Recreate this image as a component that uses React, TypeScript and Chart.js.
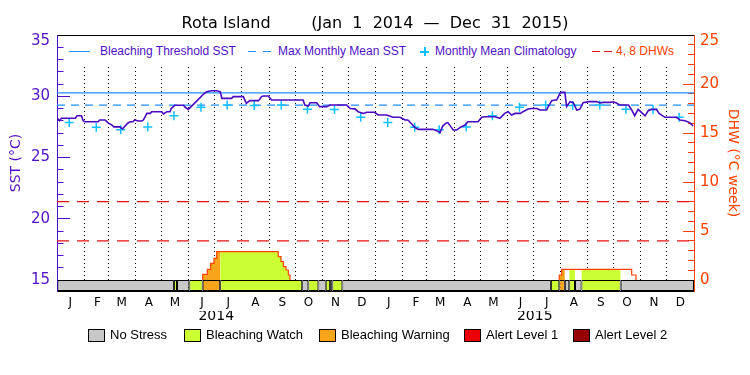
import React, { useEffect, useRef } from 'react';
import { Chart, registerables } from 'chart.js';

Chart.register(...registerables);

// ---------------- data ----------------
const monthStarts = [0, 31, 59, 90, 120, 151, 181, 212, 243, 273, 304, 334, 365, 396, 424, 455, 485, 516, 546, 577, 608, 638, 669, 699, 730];
const monthLabels = ['J', 'F', 'M', 'A', 'M', 'J', 'J', 'A', 'S', 'O', 'N', 'D', 'J', 'F', 'M', 'A', 'M', 'J', 'J', 'A', 'S', 'O', 'N', 'D', ''];
const yearCenters = [182.5, 547.5];
const yearLabels = ['2014', '2015'];
const sstTickValues = [15, 20, 25, 30, 35];
const dhwTickValues = [0, 5, 10, 15, 20, 25];

// daily SST (day index from Jan 1 2014)
const sstDays = [0, 3, 5, 21, 23, 28, 30, 32, 47, 49, 55, 59, 63, 65, 72, 75, 81, 84, 87, 89, 93, 97, 99, 103, 107, 108.5, 120, 122, 126, 129.5, 131, 135, 145, 147, 150.5, 160, 168, 171.5, 177, 183, 187, 189, 200, 202, 213.5, 217, 221, 231, 234.5, 236.5, 242, 246, 282, 284, 288, 290, 297.6, 301, 309, 313, 332, 336, 341.5, 345, 351, 355, 364, 368, 378, 385, 393, 399, 402, 406.5, 410, 414, 427.5, 431, 435, 439, 442, 446.5, 448, 452, 454, 458, 462, 467.6, 471, 482.5, 486.7, 490.5, 502, 507.7, 513, 517, 521, 525, 531, 534, 540, 544, 550, 553.5, 561, 563, 567, 570.7, 572.6, 576.4, 578, 582, 584, 588, 591.7, 595.6, 599, 603, 609, 618.5, 622, 626, 634, 637.5, 641, 645, 655, 658.6, 662, 666, 670, 674, 677.6, 681.5, 687, 690, 696.7, 702.5, 710, 714, 719.7, 725, 729];
const sstValues = [28.25, 28.0, 28.2, 28.2, 28.41, 28.41, 28.0, 27.92, 27.92, 28.06, 28.06, 27.8, 27.65, 27.5, 27.5, 27.33, 27.8, 27.92, 27.92, 28.06, 27.98, 27.98, 28.06, 28.6, 28.6, 28.74, 28.74, 28.55, 28.74, 28.74, 29.0, 29.26, 29.26, 29.1, 28.93, 29.6, 30.18, 30.37, 30.45, 30.45, 30.37, 29.83, 29.83, 29.97, 29.97, 29.42, 29.64, 29.64, 29.97, 30.02, 30.02, 29.69, 29.69, 29.28, 29.2, 29.47, 29.47, 29.15, 29.15, 29.28, 29.28, 29.0, 28.97, 28.74, 28.6, 28.69, 28.69, 28.47, 28.47, 28.28, 28.28, 28.06, 28.06, 27.73, 27.46, 27.3, 27.3, 27.3, 27.19, 27.03, 27.57, 27.84, 27.84, 27.46, 27.24, 27.24, 27.46, 27.65, 27.92, 27.92, 28.28, 28.33, 28.33, 28.2, 28.6, 28.74, 28.47, 28.6, 28.6, 28.74, 28.96, 29.0, 29.0, 28.88, 28.88, 29.15, 29.64, 29.69, 29.69, 30.24, 30.32, 30.32, 29.15, 29.56, 29.47, 28.88, 28.93, 29.47, 29.56, 29.56, 29.45, 29.5, 29.5, 29.55, 29.45, 29.28, 29.28, 28.88, 28.41, 28.93, 28.66, 28.4, 28.82, 28.93, 28.93, 28.6, 28.28, 28.28, 28.28, 28.06, 28.0, 27.85, 27.57];

// monthly mean climatology (Jan..Dec), plotted mid-month
const climValues = [27.85, 27.46, 27.27, 27.5, 28.41, 29.1, 29.28, 29.25, 29.28, 28.93, 28.92, 28.28];
const bleachingThreshold = 30.27;
const maxMonthlyMean = 29.27;
const dhwLevels = [4, 8];

// degree heating weeks (stepped; value holds from its day)
const dhwDays = [0, 167, 167, 172.3, 176.1, 179.9, 183, 253.6, 256.7, 259.4, 262.4, 265.1, 267, 575.6, 575.6, 578.4, 658.6, 663.5, 730];
const dhwValues = [0, 0, 0.58, 1.09, 1.7, 2.21, 2.89, 2.38, 1.87, 1.36, 1.02, 0.51, 0, 0, 0.51, 1.09, 0.51, 0, 0];

// bleaching stress periods
const stressStart = [0, 134, 137.5, 151.6, 167, 187, 281, 288, 299.5, 308, 313, 315.5, 327, 566, 575.6, 582, 587, 593.6, 601, 646];
const stressEnd = [134, 137.5, 151.6, 167, 187, 281, 288, 299.5, 308, 313, 315.5, 327, 566, 575.6, 582, 587, 593.6, 601, 646, 730];
const stressLevel = [0, 1, 0, 1, 2, 1, 0, 1, 0, 1, 0, 1, 0, 1, 2, 0, 1, 0, 1, 0];
const stressNames = ['No Stress', 'Bleaching Watch', 'Bleaching Warning', 'Alert Level 1', 'Alert Level 2'];

// ---------------- styles ----------------
const stressColors = ['#c8c8c8', '#ccff33', '#f9a51b', '#ee0000', '#960000'];
const PURPLE = '#5010c8';
const SST_LINE = '#4a08c0';
const BLUE = '#1e90ff';
const CYAN = '#10bfff';
const ORANGE = '#ff4000';
const RED = '#e81010';

const W = 750;
const H = 375;
const AREA_TOP = 35;
const AREA_BOTTOM = 291;
const BASE_Y = 280;
const SST_MIN = 15 - ((AREA_BOTTOM - BASE_Y) * 20) / (BASE_Y - AREA_TOP);
const DHW_MIN = -((AREA_BOTTOM - BASE_Y) * 25) / (BASE_Y - AREA_TOP);
const BAND_MAX = (AREA_BOTTOM - AREA_TOP) / (AREA_BOTTOM - BASE_Y);
const TITLE = 'Rota Island' + ' '.repeat(8) + '(Jan  1  2014  \u2014  Dec  31  2015)';

// bottom legend layout (page px)
const stressLegendBoxX = [88, 184, 319, 464, 573];

function dhwAt(d: number): number {
  let v = 0;
  for (let i = 0; i < dhwDays.length; i++) if (dhwDays[i] <= d) v = dhwValues[i];
  return v;
}

function buildFillDatasets() {
  const out: any[] = [];
  stressStart.forEach((s, k) => {
    const lvl = stressLevel[k];
    if (lvl < 1) return;
    const e = stressEnd[k];
    const pts: { x: number; y: number }[] = [{ x: s, y: dhwAt(s) }];
    dhwDays.forEach((d, i) => {
      if (d > s && d < e) pts.push({ x: d, y: dhwValues[i] });
    });
    pts.push({ x: e, y: pts[pts.length - 1].y });
    if (Math.max(...pts.map((p) => p.y)) <= 0) return;
    out.push({
      type: 'line',
      label: 'fill' + k,
      data: pts,
      xAxisID: 'x',
      yAxisID: 'yD',
      stepped: true,
      fill: 'origin',
      backgroundColor: stressColors[lvl],
      borderColor: 'rgba(0,0,0,0)',
      borderWidth: 0,
      pointRadius: 0,
      order: 7,
    });
  });
  return out;
}

const sstMinorTicks = Array.from({ length: 21 }, (_, i) => 15 + i);
const dhwMinorTicks = Array.from({ length: 26 }, (_, i) => i);

// the top tick label sits just inside the frame (pushed down ~6px), as in the original plot
const topLabel = (v: any, i: number, n: number) => (i === n - 1 ? ['', String(v)] : String(v));
const topLabelFont = (n: number) => (c: any) => (c.index === n - 1 ? { size: 15, lineHeight: 0.8 } : { size: 15 });

const LEGEND_FONT = '"Liberation Sans", Arial, sans-serif';

function Txt(props: { left: number; top: number; text: string; color: string; size: number }) {
  return (
    <span
      style={{
        position: 'absolute',
        left: props.left,
        top: props.top,
        height: 14,
        lineHeight: '14px',
        fontFamily: LEGEND_FONT,
        fontSize: props.size,
        color: props.color,
        whiteSpace: 'nowrap',
      }}
    >
      {props.text}
    </span>
  );
}

function Bar(props: { left: number; top: number; w: number; h: number; color: string }) {
  return (
    <div style={{ position: 'absolute', left: props.left, top: props.top, width: props.w, height: props.h, background: props.color }} />
  );
}

function TopLegend() {
  return (
    <>
      <Bar left={65} top={36} w={621} h={28} color="#ffffff" />
      <Bar left={69} top={51} w={21} h={1} color={BLUE} />
      <Txt left={100} top={44} text="Bleaching Threshold SST" color={PURPLE} size={12} />
      <Bar left={248} top={51} w={8} h={1} color={BLUE} />
      <Bar left={263} top={51} w={8} h={1} color={BLUE} />
      <Txt left={278} top={44} text="Max Monthly Mean SST" color={PURPLE} size={12} />
      <Bar left={420} top={51} w={9} h={1.5} color={CYAN} />
      <Bar left={424} top={47} w={1.5} h={9} color={CYAN} />
      <Txt left={435} top={44} text="Monthly Mean Climatology" color={PURPLE} size={12} />
      <Bar left={592} top={51} w={8} h={1} color={RED} />
      <Bar left={604} top={51} w={8} h={1} color={RED} />
      <Txt left={616} top={44} text="4, 8 DHWs" color={ORANGE} size={12} />
    </>
  );
}

function StressLegend() {
  return (
    <>
      {stressNames.map((name, i) => (
        <React.Fragment key={name}>
          <div
            style={{
              position: 'absolute',
              left: stressLegendBoxX[i],
              top: 329,
              width: 17,
              height: 13,
              boxSizing: 'border-box',
              border: '1px solid #000',
              background: stressColors[i],
            }}
          />
          <Txt left={stressLegendBoxX[i] + 22} top={328} text={name} color="#000000" size={13} />
        </React.Fragment>
      ))}
    </>
  );
}

export default function App() {
  const ref = useRef<HTMLCanvasElement | null>(null);

  useEffect(() => {
    if (!ref.current) return;
    Chart.defaults.font.family = '"DejaVu Sans", sans-serif';

    const datasets: any[] = [
      {
        type: 'bar',
        label: 'Stress',
        indexAxis: 'y',
        xAxisID: 'x',
        yAxisID: 'yBand',
        data: stressStart.map((s, i) => ({ x: [s, stressEnd[i]], y: 0.5 })),
        backgroundColor: stressLevel.map((l) => stressColors[l]),
        borderColor: '#000000',
        borderWidth: 1,
        borderSkipped: false,
        barThickness: AREA_BOTTOM - BASE_Y,
        inflateAmount: 0,
        order: 0,
      },
      {
        type: 'line',
        label: 'SST',
        data: sstDays.map((d, i) => ({ x: d, y: sstValues[i] })),
        xAxisID: 'x',
        yAxisID: 'y',
        borderColor: SST_LINE,
        borderWidth: 1.6,
        pointRadius: 0,
        tension: 0,
        order: 1,
      },
      {
        type: 'line',
        label: 'Monthly Mean Climatology',
        data: monthStarts.slice(0, 24).map((d, i) => ({ x: d + 14, y: climValues[i % 12] })),
        xAxisID: 'x',
        yAxisID: 'y',
        showLine: false,
        pointStyle: 'cross',
        pointRadius: 4.5,
        pointBorderWidth: 1.5,
        pointBorderColor: CYAN,
        borderColor: CYAN,
        order: 2,
      },
      {
        type: 'line',
        label: 'Bleaching Threshold SST',
        data: [{ x: 0, y: bleachingThreshold }, { x: 730, y: bleachingThreshold }],
        xAxisID: 'x',
        yAxisID: 'y',
        borderColor: BLUE,
        borderWidth: 1.2,
        pointRadius: 0,
        order: 3,
      },
      {
        type: 'line',
        label: 'Max Monthly Mean SST',
        data: [{ x: 0, y: maxMonthlyMean }, { x: 730, y: maxMonthlyMean }],
        xAxisID: 'x',
        yAxisID: 'y',
        borderColor: BLUE,
        borderWidth: 1.2,
        borderDash: [8, 6],
        pointRadius: 0,
        order: 4,
      },
      ...dhwLevels.map((lv) => ({
        type: 'line',
        label: 'DHW ' + lv,
        data: [{ x: 0, y: lv }, { x: 730, y: lv }],
        xAxisID: 'x',
        yAxisID: 'yD',
        borderColor: RED,
        borderWidth: 1.2,
        borderDash: [12, 8],
        pointRadius: 0,
        order: 5,
      })),
      {
        type: 'line',
        label: 'DHW',
        data: dhwDays.map((d, i) => ({ x: d, y: dhwValues[i] })),
        xAxisID: 'x',
        yAxisID: 'yD',
        stepped: true,
        borderColor: ORANGE,
        borderWidth: 1.2,
        pointRadius: 0,
        segment: {
          borderColor: (c: any) => (c.p0.parsed.y === 0 && c.p1.parsed.y === 0 ? 'rgba(0,0,0,0)' : undefined),
        },
        order: 6,
      },
      ...buildFillDatasets(),
    ];

    const chart = new Chart(ref.current, {
      type: 'line',
      data: { datasets },
      options: {
        responsive: false,
        animation: false,
        events: [],
        layout: { padding: { left: 0, right: 0, top: 0, bottom: 49 } },
        scales: {
          x: {
            type: 'linear',
            position: 'bottom',
            min: 0,
            max: 730,
            offset: false,
            afterBuildTicks: (s: any) => {
              s.ticks = monthStarts.map((v) => ({ value: v }));
            },
            afterFit: (s: any) => {
              s.height = 20;
            },
            ticks: {
              autoSkip: false,
              maxRotation: 0,
              minRotation: 0,
              labelOffset: 13.3,
              padding: 5,
              color: '#000000',
              font: { size: 12 },
              callback: (_v: any, i: number) => monthLabels[i],
            },
            grid: {
              drawTicks: false,
              lineWidth: 1,
              color: (c: any) =>
                c.tick && (c.tick.value === 0 || c.tick.value === 730) ? 'rgba(0,0,0,0)' : '#000000',
            },
            border: { color: '#000000', width: 1, dash: [1, 3] },
          },
          xYear: {
            type: 'linear',
            position: 'bottom',
            min: 0,
            max: 730,
            offset: false,
            afterBuildTicks: (s: any) => {
              s.ticks = yearCenters.map((v) => ({ value: v }));
            },
            afterFit: (s: any) => {
              s.height = 15;
            },
            ticks: {
              autoSkip: false,
              maxRotation: 0,
              minRotation: 0,
              padding: -3.4,
              color: '#000000',
              font: { size: 14 },
              callback: (_v: any, i: number) => yearLabels[i],
            },
            grid: { display: false, drawTicks: false },
            border: { display: false },
          },
          xTop: {
            type: 'linear',
            position: 'top',
            min: 0,
            max: 730,
            afterFit: (s: any) => {
              s.height = 0;
            },
            ticks: { display: false },
            grid: { display: false, drawTicks: false },
            border: { color: '#000000', width: 1 },
          },
          y: {
            type: 'linear',
            position: 'left',
            weight: 1,
            z: 1,
            min: SST_MIN,
            max: 35,
            offset: false,
            afterBuildTicks: (s: any) => {
              s.ticks = sstTickValues.map((v) => ({ value: v }));
            },
            afterFit: (s: any) => {
              s.width = 57;
            },
            ticks: {
              padding: 20,
              color: PURPLE,
              font: topLabelFont(sstTickValues.length),
              callback: (v: any, i: number) => topLabel(v, i, sstTickValues.length),
            },
            grid: { drawOnChartArea: false, drawTicks: true, tickLength: -13, tickColor: PURPLE, tickWidth: 1 },
            border: { color: PURPLE, width: 1 },
            title: { display: true, text: 'SST (\u00B0C)', color: PURPLE, font: { size: 14 }, padding: { top: 8, bottom: 0 } },
          },
          yMinor: {
            type: 'linear',
            position: 'left',
            weight: 0,
            z: 1,
            min: SST_MIN,
            max: 35,
            offset: false,
            afterBuildTicks: (s: any) => {
              s.ticks = sstMinorTicks.map((v) => ({ value: v }));
            },
            afterFit: (s: any) => {
              s.width = 0;
            },
            ticks: { display: false },
            grid: { drawOnChartArea: false, drawTicks: true, tickLength: -6.5, tickColor: PURPLE, tickWidth: 1 },
            border: { display: false },
          },
          yD: {
            type: 'linear',
            position: 'right',
            weight: 1,
            z: 1,
            min: DHW_MIN,
            max: 25,
            offset: false,
            afterBuildTicks: (s: any) => {
              s.ticks = dhwTickValues.map((v) => ({ value: v }));
            },
            afterFit: (s: any) => {
              s.width = 56;
            },
            ticks: {
              padding: 17,
              color: ORANGE,
              font: topLabelFont(dhwTickValues.length),
              callback: (v: any, i: number) => topLabel(v, i, dhwTickValues.length),
            },
            grid: { drawOnChartArea: false, drawTicks: true, tickLength: -11, tickColor: ORANGE, tickWidth: 1 },
            border: { color: ORANGE, width: 1 },
            title: { display: true, text: 'DHW (\u00B0C week)', color: ORANGE, font: { size: 14 }, padding: { top: 9, bottom: 0 } },
          },
          yDMinor: {
            type: 'linear',
            position: 'right',
            weight: 0,
            z: 1,
            min: DHW_MIN,
            max: 25,
            offset: false,
            afterBuildTicks: (s: any) => {
              s.ticks = dhwMinorTicks.map((v) => ({ value: v }));
            },
            afterFit: (s: any) => {
              s.width = 0;
            },
            ticks: { display: false },
            grid: { drawOnChartArea: false, drawTicks: true, tickLength: -6, tickColor: ORANGE, tickWidth: 1 },
            border: { display: false },
          },
          yBand: {
            type: 'linear',
            display: false,
            min: 0,
            max: BAND_MAX,
            offset: false,
            grid: { offset: false },
          },
        } as any,
        plugins: {
          title: {
            display: true,
            text: TITLE,
            color: '#000000',
            font: { size: 16, weight: 'normal' },
            padding: { top: 14, bottom: 1.8 },
          },
          legend: { display: false },
          tooltip: { enabled: false },
        },
      } as any,
    });

    return () => chart.destroy();
  }, []);

  return (
    <div style={{ position: 'fixed', left: 0, top: 0, width: W, height: H, background: '#ffffff', overflow: 'hidden' }}>
      <canvas ref={ref} width={W} height={H} style={{ position: 'absolute', left: 0, top: 0, display: 'block' }} />
      <TopLegend />
      <StressLegend />
    </div>
  );
}
